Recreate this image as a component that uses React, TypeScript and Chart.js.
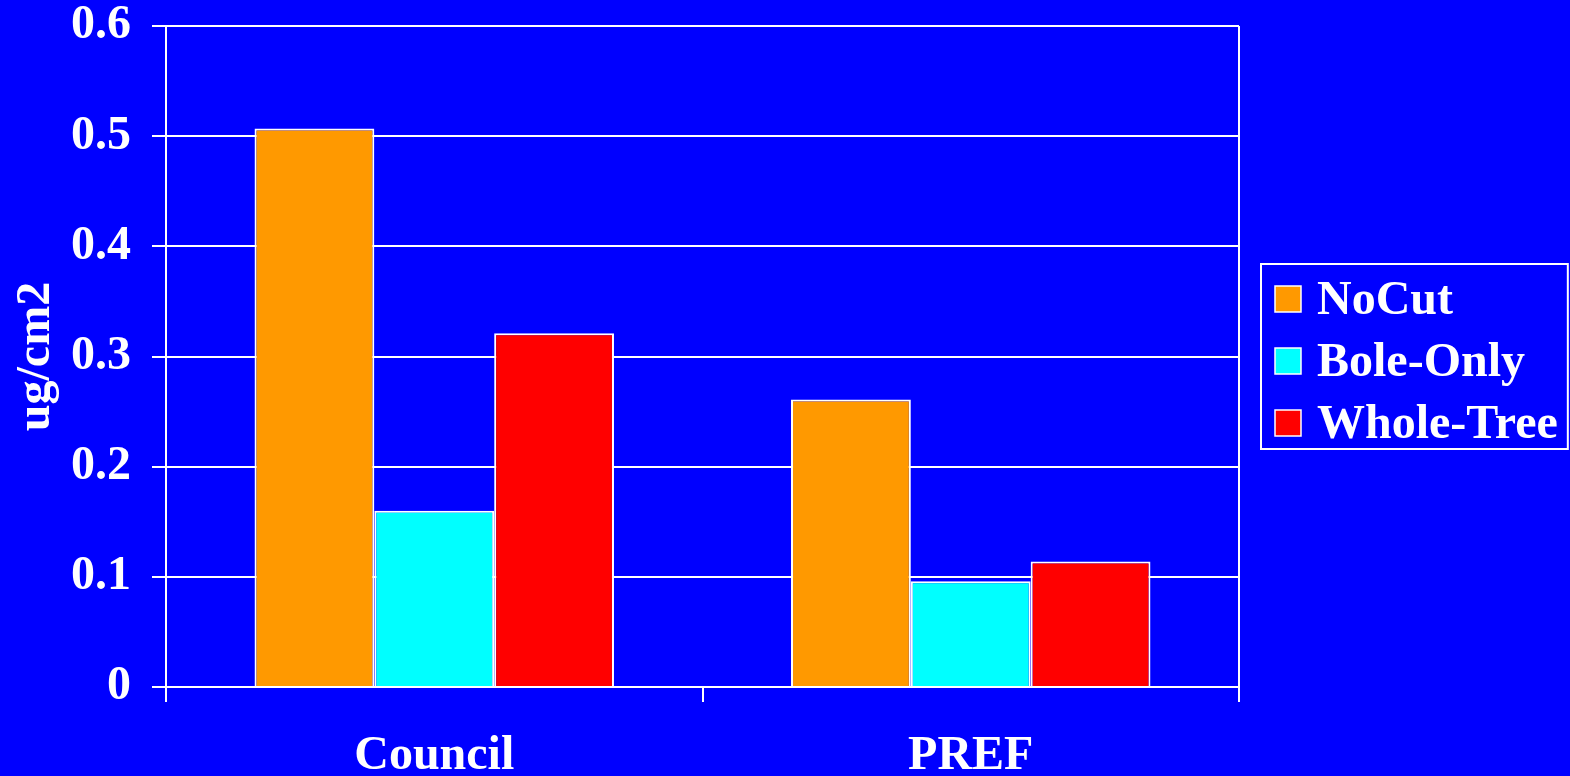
import React, { useEffect, useRef } from "react";
import { Chart, registerables } from "chart.js";

Chart.register(...registerables);

// Sites on the x axis
const categories: string[] = ["Council", "PREF"];

// Treatment series (ug/cm2)
const noCut: number[] = [0.507, 0.261];
const boleOnly: number[] = [0.16, 0.096];
const wholeTree: number[] = [0.321, 0.114];

const seriesLabels: string[] = ["NoCut", "Bole-Only", "Whole-Tree"];
const seriesColors: string[] = ["#FF9900", "#00FFFF", "#FF0000"];

const yAxisTitle = "ug/cm2";
const yMin = 0;
const yMax = 0.6;
const yStep = 0.1;

const BG = "#0000FF";
const FG = "#FFFFFF";
const FONT_FAMILY = '"Liberation Serif", "Times New Roman", Times, serif';
const FONT_SIZE = 48;

// Right-hand frame line of the plot area
const frameLinePlugin = {
  id: "frameLine",
  afterDatasetsDraw(chart: any) {
    const { ctx, chartArea } = chart;
    ctx.save();
    ctx.strokeStyle = FG;
    ctx.lineWidth = 2;
    ctx.beginPath();
    ctx.moveTo(chartArea.right, chartArea.top);
    ctx.lineTo(chartArea.right, chartArea.bottom);
    ctx.stroke();
    ctx.restore();
  },
};

// Boxed legend to the right of the plot area
const boxLegendPlugin = {
  id: "boxLegend",
  afterDraw(chart: any) {
    const { ctx, chartArea } = chart;
    const datasets = chart.data.datasets;
    ctx.save();
    ctx.font = `bold ${FONT_SIZE}px ${FONT_FAMILY}`;
    let maxText = 0;
    datasets.forEach((d: any) => {
      maxText = Math.max(maxText, ctx.measureText(d.label).width);
    });
    const padLeft = 14;
    const swatch = 26;
    const gap = 16;
    const padRight = 10;
    const rowH = 62;
    const padTop = 35;
    const padBottom = 26;
    const boxW = padLeft + swatch + gap + maxText + padRight;
    const boxH = rowH * (datasets.length - 1) + padTop + padBottom;
    const x0 = chartArea.right + 22;
    const yc = (chartArea.top + chartArea.bottom) / 2;
    const y0 = Math.round(yc - boxH / 2);

    ctx.fillStyle = BG;
    ctx.fillRect(x0, y0, boxW, boxH);
    ctx.strokeStyle = FG;
    ctx.lineWidth = 2;
    ctx.strokeRect(x0, y0, boxW, boxH);

    datasets.forEach((d: any, i: number) => {
      const cy = y0 + padTop + i * rowH;
      ctx.fillStyle = d.backgroundColor;
      ctx.fillRect(x0 + padLeft, cy - swatch / 2, swatch, swatch);
      ctx.lineWidth = 1.5;
      ctx.strokeStyle = FG;
      ctx.strokeRect(x0 + padLeft, cy - swatch / 2, swatch, swatch);
      ctx.fillStyle = FG;
      ctx.textAlign = "left";
      ctx.textBaseline = "middle";
      ctx.fillText(d.label, x0 + padLeft + swatch + gap, cy + 3);
    });
    ctx.restore();
  },
};

export default function App() {
  const canvasRef = useRef<HTMLCanvasElement | null>(null);

  useEffect(() => {
    const canvas = canvasRef.current;
    if (!canvas) return;
    const values = [noCut, boleOnly, wholeTree];
    const font = { family: FONT_FAMILY, size: FONT_SIZE, weight: "bold" as const, lineHeight: 1 };

    const chart = new Chart(canvas, {
      type: "bar",
      data: {
        labels: categories,
        datasets: seriesLabels.map((label, i) => ({
          label,
          data: values[i],
          backgroundColor: seriesColors[i],
          borderColor: FG,
          borderWidth: 2,
          categoryPercentage: 0.67,
          barPercentage: 1.0,
        })),
      },
      options: {
        animation: false,
        responsive: false,
        maintainAspectRatio: false,
        layout: { padding: { left: 0, right: 331, top: 26, bottom: 0 } },
        plugins: {
          legend: { display: false },
          tooltip: { enabled: false },
        },
        scales: {
          x: {
            grid: {
              display: true,
              offset: true,
              drawOnChartArea: false,
              drawTicks: true,
              tickLength: 15,
              color: FG,
              lineWidth: 2,
            },
            border: { display: true, color: FG, width: 2 },
            ticks: { color: FG, font, padding: 31, maxRotation: 0 },
            afterFit: (scale: any) => {
              scale.height = 89;
              scale.paddingLeft = 0;
              scale.paddingRight = 0;
            },
          },
          y: {
            min: yMin,
            max: yMax,
            grid: {
              color: FG,
              lineWidth: 2,
              drawTicks: true,
              tickLength: 14,
            },
            border: { display: true, color: FG, width: 2 },
            ticks: {
              stepSize: yStep,
              color: FG,
              font,
              padding: 21,
              callback: (v: any) => {
                const n = Number(v);
                return n === 0 ? "0" : n.toFixed(1);
              },
            },
            title: {
              display: true,
              text: yAxisTitle,
              color: FG,
              font,
              padding: { top: 13, bottom: 0 },
            },
            afterFit: (scale: any) => {
              scale.width = 166;
              scale.paddingTop = 0;
              scale.paddingBottom = 0;
            },
          },
        },
      },
      plugins: [frameLinePlugin, boxLegendPlugin],
    });

    return () => chart.destroy();
  }, []);

  return (
    <div
      style={{
        position: "fixed",
        left: 0,
        top: 0,
        width: 1570,
        height: 776,
        background: BG,
      }}
    >
      <canvas ref={canvasRef} width={1570} height={776} style={{ display: "block" }} />
    </div>
  );
}
